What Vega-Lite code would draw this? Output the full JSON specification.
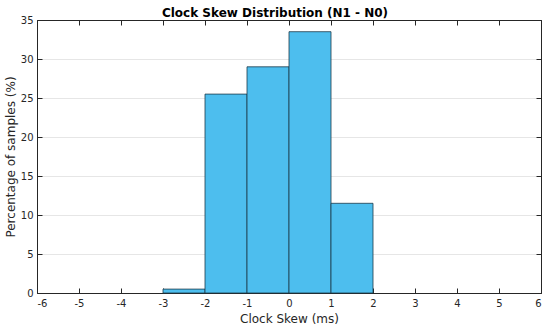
{
  "$schema": "https://vega.github.io/schema/vega-lite/v6.json",
  "autosize": {"type": "none"},
  "width": 504,
  "height": 273,
  "padding": {"left": 37, "top": 20, "right": 9, "bottom": 37},
  "background": "white",
  "config": {
    "font": "DejaVu Sans",
    "view": {"stroke": "#262626", "strokeWidth": 1},
    "axis": {"labelFont": "DejaVu Sans", "titleFont": "DejaVu Sans", "labelColor": "#262626", "titleColor": "#262626", "domainColor": "#262626", "tickColor": "#262626", "labelFontSize": 10, "titleFontSize": 12, "titleFontWeight": "normal"}
  },
  "title": {"text": "Clock Skew Distribution (N1 - N0)", "fontSize": 12, "fontWeight": "bold", "color": "#000000", "offset": 3, "dx": -14, "dy": 8},
  "data": {"values": [
    {"bin_start": -3, "bin_end": -2, "pct": 0.5},
    {"bin_start": -2, "bin_end": -1, "pct": 25.5},
    {"bin_start": -1, "bin_end": 0, "pct": 29.0},
    {"bin_start": 0, "bin_end": 1, "pct": 33.5},
    {"bin_start": 1, "bin_end": 2, "pct": 11.5}
  ]},
  "layer": [
    {
      "mark": {"type": "bar", "fill": "#4DBEEE", "stroke": "#1d3a4a", "strokeWidth": 0.8},
      "encoding": {
        "x": {"field": "bin_start", "type": "quantitative", "scale": {"domain": [-6, 6], "nice": false},
          "axis": {"orient": "bottom", "title": "Clock Skew (ms)", "values": [-6,-5,-4,-3,-2,-1,0,1,2,3,4,5,6], "labelExpr": "'' + datum.value", "tickSize": -5, "labelPadding": 10, "grid": false, "titlePadding": 5}},
        "x2": {"field": "bin_end"},
        "y": {"field": "pct", "type": "quantitative", "scale": {"domain": [0, 35], "nice": false},
          "axis": {"orient": "left", "title": "Percentage of samples (%)", "values": [0,5,10,15,20,25,30,35], "tickSize": -5, "labelPadding": 9, "grid": true, "gridColor": "#e6e6e6", "titlePadding": 3}},
        "y2": {"datum": 0}
      }
    },
    {
      "mark": {"type": "rule", "opacity": 0},
      "encoding": {
        "x": {"field": "bin_start", "type": "quantitative", "scale": {"domain": [-6, 6], "nice": false},
          "axis": {"orient": "top", "title": null, "labels": false, "values": [-6,-5,-4,-3,-2,-1,0,1,2,3,4,5,6], "tickSize": -5, "grid": false}},
        "y": {"field": "pct", "type": "quantitative", "scale": {"domain": [0, 35], "nice": false},
          "axis": {"orient": "right", "title": null, "labels": false, "values": [0,5,10,15,20,25,30,35], "tickSize": -5, "grid": false}}
      }
    }
  ],
  "resolve": {"axis": {"x": "independent", "y": "independent"}}
}
